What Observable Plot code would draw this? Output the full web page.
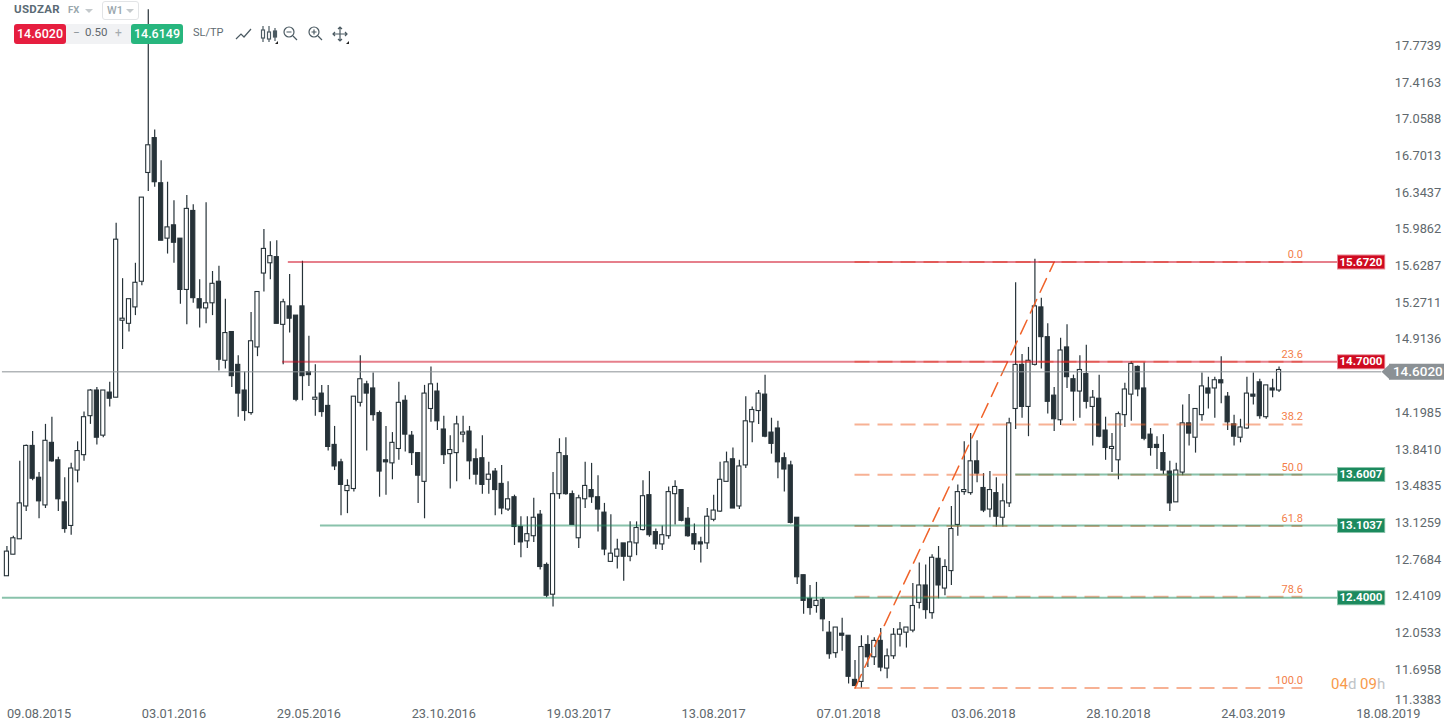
<!DOCTYPE html>
<html>
<head>
<meta charset="utf-8">
<script src="https://cdn.jsdelivr.net/npm/d3@7"></script>
<script src="https://cdn.jsdelivr.net/npm/@observablehq/plot@0.6"></script>
<style>
html,body{margin:0;padding:0;background:#fff;width:1444px;height:726px;overflow:hidden;font-family:Roboto,sans-serif}
#wrap{position:relative;width:1444px;height:726px}
#wrap svg.plot{position:absolute;left:0;top:0}
.hd{position:absolute;white-space:nowrap;line-height:1}
.btn{position:absolute;text-align:center;font-size:12.5px;font-weight:500;color:#fff}
</style>
</head>
<body>
<div id="wrap"></div>
<script>
const opens = [
12.61,12.82,12.97,13.29,13.88,13.57,13.30,13.91,13.74,13.33,
13.10,13.64,13.79,14.17,14.42,13.98,14.40,14.35,15.10,15.07,
15.23,15.48,16.54,16.88,16.44,15.90,16.03,15.90,15.40,16.17,
15.31,15.22,15.27,15.48,14.71,14.99,14.67,14.42,14.20,14.84,
15.56,15.66,15.72,15.06,15.24,15.15,15.24,14.60,14.33,14.39,
14.27,13.89,13.72,13.44,13.46,14.30,14.48,14.44,14.20,13.74,
13.71,13.85,14.32,13.98,13.81,13.53,14.24,14.41,14.04,13.80,
13.81,13.99,14.02,13.75,13.76,13.55,13.63,13.51,13.26,13.38,
13.09,12.95,13.00,13.21,12.72,12.43,13.41,13.78,13.41,12.98,
13.36,13.45,13.38,13.23,12.75,12.80,12.93,12.80,12.93,13.06,
13.40,13.04,12.92,13.00,13.41,13.45,13.17,13.02,12.94,12.93,
13.16,13.24,13.53,13.75,13.29,13.69,14.11,14.22,14.38,14.01,
14.05,13.76,13.69,13.18,12.62,12.39,12.32,12.38,12.06,11.86,
12.05,12.03,11.60,11.58,11.94,11.82,11.98,11.71,11.83,12.04,
12.06,12.08,12.35,12.52,12.25,12.78,12.49,12.66,13.11,13.43,
13.42,13.73,13.47,13.26,13.42,13.18,13.32,14.24,14.67,14.26,
14.67,15.23,14.94,14.37,14.13,14.84,14.53,14.41,14.58,14.26,
14.34,14.03,13.85,13.74,14.18,14.38,14.65,14.44,13.99,13.89,
13.81,13.63,13.33,13.62,14.10,13.96,14.18,14.44,14.44,14.52,
14.36,14.09,13.96,14.05,14.38,14.50,14.16,14.44,14.42];
const closes = [
12.85,12.98,13.32,13.88,13.56,13.34,13.93,13.73,13.36,13.07,
13.66,13.83,14.16,14.42,13.96,14.42,14.34,15.89,15.12,15.31,
15.47,16.30,16.81,16.45,15.88,16.01,15.86,15.40,16.19,15.32,
15.22,15.27,15.46,14.72,14.98,14.56,14.39,14.22,14.90,15.38,
15.80,15.73,15.07,15.28,15.12,14.33,14.56,14.57,14.35,14.21,
13.87,13.68,13.50,13.49,14.36,14.53,14.39,14.18,13.63,13.72,
13.91,14.30,13.99,13.81,13.59,14.39,14.48,14.12,13.79,13.84,
14.09,14.01,13.73,13.60,13.50,13.60,13.45,13.27,13.36,13.09,
12.94,13.02,13.18,12.70,12.42,13.41,13.81,13.41,13.11,13.37,
13.49,13.38,13.26,12.87,12.83,12.87,12.80,12.94,13.08,13.39,
13.01,12.92,13.01,13.43,13.48,13.15,13.00,12.92,12.92,13.19,
13.25,13.55,13.72,13.27,13.68,14.12,14.23,14.39,13.97,13.90,
13.72,13.65,13.13,12.60,12.37,12.30,12.37,12.19,11.85,12.11,
12.03,11.63,11.54,11.92,11.82,11.98,11.72,11.83,12.04,12.09,
12.11,12.32,12.52,12.28,12.79,12.52,12.70,13.07,13.43,13.45,
13.73,13.61,13.25,13.45,13.19,13.34,14.10,14.67,14.26,14.71,
15.24,14.94,14.31,14.14,14.81,14.55,14.41,14.62,14.31,14.35,
13.97,13.86,13.87,14.19,14.43,14.68,14.43,13.95,13.86,13.86,
13.64,13.32,13.64,14.10,14.00,14.24,14.46,14.39,14.52,14.49,
14.11,13.97,14.06,14.39,14.36,14.17,14.47,14.42,14.62];
const highs = [
12.90,13.00,13.73,13.89,14.02,13.62,14.09,14.16,13.77,13.57,
13.71,13.92,14.21,14.43,14.45,14.42,14.50,16.05,15.51,15.31,
15.66,16.30,18.13,16.96,16.66,16.45,16.27,15.90,16.32,16.23,
15.50,16.25,15.58,15.63,15.31,14.99,14.76,14.60,15.18,15.38,
15.99,15.87,15.88,15.31,15.55,15.15,15.68,14.95,14.67,14.47,
14.47,14.07,13.75,13.55,14.36,14.76,14.51,14.59,14.22,14.07,
14.01,14.50,14.37,14.02,13.81,14.47,14.65,14.49,14.17,13.98,
14.17,14.17,14.07,13.85,13.98,13.72,13.66,13.69,13.53,13.40,
13.19,13.19,13.37,13.25,12.74,13.62,13.95,13.96,13.44,13.40,
13.72,13.71,13.59,13.32,13.21,12.97,12.93,13.14,13.14,13.54,
13.63,13.07,13.10,13.48,13.54,13.45,13.28,13.12,12.99,13.27,
13.40,13.72,13.82,13.86,13.74,14.36,14.26,14.42,14.57,14.15,
14.12,13.81,13.73,13.18,12.62,12.52,12.55,12.40,12.17,12.11,
12.20,12.03,11.79,12.03,12.03,12.01,12.10,11.90,12.10,12.16,
12.11,12.54,12.74,12.72,12.82,12.90,12.77,13.29,13.50,13.92,
14.00,13.93,13.61,13.63,13.57,13.51,14.15,15.47,14.77,14.84,
15.70,15.32,15.07,14.45,14.93,15.06,14.57,14.76,14.86,14.42,
14.57,14.16,14.00,14.21,14.49,14.70,14.66,14.69,14.05,13.97,
13.99,13.73,13.71,14.28,14.38,14.24,14.59,14.55,14.55,14.75,
14.40,14.18,14.14,14.55,14.59,14.53,14.47,14.53,14.65];
const lows = [
12.61,12.82,12.97,13.24,13.54,13.17,13.27,13.72,13.24,13.03,
13.01,13.52,13.73,14.09,13.89,13.96,14.26,14.35,14.82,14.99,
15.15,15.44,16.36,16.40,15.88,15.75,15.66,15.26,15.06,15.27,
15.03,15.07,15.15,14.61,14.63,14.45,14.16,14.12,14.18,14.75,
15.38,15.50,15.07,14.67,14.98,14.31,14.32,14.46,14.17,14.16,
13.83,13.64,13.20,13.22,13.43,14.26,13.83,14.12,13.38,13.40,
13.55,13.74,13.82,13.69,13.32,13.17,14.11,14.03,13.70,13.46,
13.53,13.91,13.55,13.50,13.41,13.41,13.20,13.21,13.24,12.91,
12.79,12.88,12.94,12.67,12.40,12.31,13.36,13.40,13.11,12.88,
13.27,13.32,13.04,12.81,12.75,12.68,12.56,12.75,12.81,13.05,
12.99,12.87,12.86,12.97,13.11,13.14,12.99,12.86,12.74,12.87,
13.14,13.23,13.53,13.27,13.26,13.66,13.91,14.09,13.96,13.80,
13.56,13.43,13.12,12.53,12.24,12.23,12.25,12.07,11.80,11.81,
11.88,11.56,11.54,11.52,11.72,11.74,11.68,11.61,11.80,11.92,
11.91,12.06,12.29,12.19,12.19,12.39,12.42,12.52,13.00,13.40,
13.40,13.52,13.23,13.18,13.09,13.09,13.28,14.04,14.15,13.97,
14.66,14.63,14.19,14.02,14.08,14.44,14.12,14.15,14.24,13.88,
13.96,13.74,13.62,13.55,14.06,14.12,14.36,13.93,13.78,13.65,
13.60,13.24,13.33,13.59,13.88,13.81,14.12,14.24,14.15,14.29,
14.03,13.88,13.91,14.04,14.28,14.14,14.14,14.35,14.40];

const priceTicks = [17.7739,17.4163,17.0588,16.7013,16.3437,15.9862,15.6287,15.2711,14.9136,14.1985,13.841,13.4835,13.1259,12.7684,12.4109,12.0533,11.6958];
const bottomTick = [11.3383];
const dateTicks = ["2015-08-09","2016-01-03","2016-05-29","2016-10-23","2017-03-19","2017-08-13","2018-01-07","2018-06-03","2018-10-28","2019-03-24","2019-08-18"];

const levelPrices = [15.672,14.7,13.6007,13.1037,12.4];
const levelFromWeek = [43.8,42.9,157,48.8,-0.7];
const levelKinds = ["res","res","sup","sup","sup"];
const lastPrice = [14.602];
const fibLabels = ["0.0","23.6","38.2","50.0","61.8","78.6","100.0"];
const fibPrices = [15.672,14.7,14.09,13.6,13.1,12.41,11.52];
const fibStart = "2018-01-14", fibEnd = "2018-08-19", fibStop = "2019-05-17";

const firstWeek = Date.UTC(2015,6,5), weekMs = 7*864e5;
const wk = n => new Date(firstWeek + n*weekMs);
const candles = opens.map((o,i)=>({date:wk(i),open:o,close:closes[i],high:highs[i],low:lows[i],up:closes[i]>o}));
const levels = levelPrices.map((p,i)=>({price:p,from:wk(levelFromWeek[i]),kind:levelKinds[i]}));
const fibs = fibPrices.map((p,i)=>({price:p,label:fibLabels[i]}));
const dark="#263238", red="#cf0a20", green="#1c8a5e", grey="#8b9195", orange="#f0632a";
const fmt = d3.utcFormat("%d.%m.%Y");
const halfBody = 2.25*864e5;
const chevron = {draw(c){c.moveTo(0.5,-8);c.lineTo(-8,0);c.lineTo(0.5,8);c.closePath();}};

const chart = Plot.plot({
  width:1444,height:726,marginLeft:0,marginRight:49.8,marginTop:0,marginBottom:22,
  style:{fontFamily:"Roboto, sans-serif",background:"transparent"},
  x:{type:"utc",domain:[new Date("2015-06-28"),new Date("2019-08-25")]},
  y:{domain:[11.36,18.221]},
  marks:[
    Plot.axisY({anchor:"right",ticks:priceTicks,tickFormat:d=>d.toFixed(4),tickSize:0,tickPadding:0,label:null,fontSize:12.8,fill:"#60686d",dy:-0.5}),
    Plot.axisX({anchor:"bottom",ticks:dateTicks.map(d=>new Date(d)),tickFormat:fmt,tickSize:0,tickPadding:4,label:null,fontSize:12.8,fill:"#60686d"}),
    Plot.text(bottomTick,{x:()=>new Date("2019-08-25"),y:d=>d,text:d=>d.toFixed(4),textAnchor:"start",dy:-7,fontSize:12.8,fill:"#60686d"}),
    Plot.ruleX(candles,{x:"date",y1:"low",y2:"high",stroke:dark,strokeWidth:1.2}),
    Plot.rect(candles,{x1:d=>new Date(+d.date-halfBody),x2:d=>new Date(+d.date+halfBody),y1:"open",y2:"close",fill:d=>d.up?"#fff":dark,stroke:dark,strokeWidth:1.1}),
    Plot.ruleY(fibs,{y:"price",x1:()=>new Date(fibStart),x2:()=>new Date(fibStop),stroke:orange,strokeOpacity:.5,strokeWidth:2,strokeDasharray:"15 8"}),
    Plot.line([{d:new Date(fibStart),p:11.52},{d:new Date(fibEnd),p:15.672}],{x:"d",y:"p",stroke:orange,strokeWidth:1.5,strokeDasharray:"15 8"}),
    Plot.ruleY(levels,{y:"price",x1:"from",x2:()=>wk(207.2),stroke:d=>d.kind==="res"?red:green,strokeOpacity:.52,strokeWidth:2}),
    Plot.ruleY(lastPrice,{y:d=>d,x1:()=>wk(-0.7),x2:()=>wk(214),stroke:grey,strokeWidth:1}),
    Plot.text(fibs,{y:"price",x:()=>new Date(fibStop),text:"label",textAnchor:"end",dy:-7.5,fontSize:11,fill:"#f3804a"}),
    Plot.ruleY(levels,{y:"price",x1:()=>wk(207.1),x2:()=>wk(214.6),stroke:d=>d.kind==="res"?"#e88a96":"#8cc4ab",strokeWidth:15}),
    Plot.ruleY(levels,{y:"price",x1:()=>wk(207.25),x2:()=>wk(214.45),stroke:d=>d.kind==="res"?red:green,strokeWidth:13}),
    Plot.text(levels,{y:"price",x:()=>wk(210.75),text:d=>d.price.toFixed(4),fill:"#fff",fontWeight:700,fontSize:11.5}),
    Plot.ruleY(lastPrice,{y:d=>d,x1:()=>wk(215.2),x2:()=>wk(224),stroke:grey,strokeWidth:16}),
    Plot.dot(lastPrice,{y:d=>d,x:()=>wk(215.2),symbol:chevron,r:8,fill:grey}),
    Plot.text(lastPrice,{y:d=>d,x:()=>wk(219.6),text:d=>d.toFixed(4),fill:"#fff",fontWeight:500,fontSize:13.5})
  ]
});
const wrap=document.getElementById("wrap");
wrap.appendChild(chart);
const header=document.createElement("div");
header.innerHTML=`
<div class="hd" style="left:14px;top:4px;font-size:11.5px;font-weight:700;color:#5b6b75;letter-spacing:.3px">USDZAR</div>
<div class="hd" style="left:68px;top:5px;font-size:9.5px;font-weight:700;color:#9aa7ad">FX</div>
<div class="hd" style="left:85px;top:9px;width:0;height:0;border-left:4px solid transparent;border-right:4px solid transparent;border-top:4px solid #c4c9cc"></div>
<div class="hd" style="left:102px;top:1px;width:35px;height:17px;border:1px solid #e2e4e6;border-radius:3px;background:#fff"></div>
<div class="hd" style="left:107px;top:5px;font-size:11px;font-weight:500;color:#9aa7ad">W1</div>
<div class="hd" style="left:126px;top:9px;width:0;height:0;border-left:4px solid transparent;border-right:4px solid transparent;border-top:4px solid #c4c9cc"></div>
<div class="hd" style="left:14px;top:24px;width:169px;height:20px;background:#f1f2f4;border-radius:3px"></div>
<div class="btn" style="left:14px;top:24px;width:52px;height:20px;line-height:20px;background:#e61e3f;border-radius:3px">14.6020</div>
<div class="btn" style="left:131px;top:24px;width:52px;height:20px;line-height:20px;background:#27b67e;border-radius:3px">14.6149</div>
<div class="hd" style="left:73px;top:27px;font-size:12px;color:#8e979c">−</div>
<div class="hd" style="left:85px;top:27px;font-size:11.5px;color:#60686d">0.50</div>
<div class="hd" style="left:115px;top:27px;font-size:12px;color:#a5acb0">+</div>
<div class="hd" style="left:193px;top:27px;font-size:11px;color:#5f6b72">SL/TP</div>
<svg class="hd" style="left:234px;top:24px" width="118" height="20" fill="none" stroke="#4b5a62" stroke-width="1.2">
<path d="M2 15 L7 10 L10 13 L17 5"/>
<path d="M29 2V18M35 2V18M41 4V17"/><rect x="27.5" y="6" width="3" height="8" fill="#fff"/><rect x="33.5" y="8" width="3" height="7" fill="#fff"/><rect x="39.5" y="7" width="3" height="6" fill="#4b5a62"/>
<path d="M41 20l3-3v3z" fill="#222" stroke="none"/>
<circle cx="55" cy="8" r="5"/><path d="M59 12L63 16M52.5 8h5"/>
<circle cx="80" cy="8" r="5"/><path d="M84 12L88 16M77.5 8h5M80 5.5v5"/>
<path d="M106 3V17M99 10H113M104 5l2-2 2 2M104 15l2 2 2-2M101 8l-2 2 2 2M111 8l2 2-2 2"/>
<path d="M112 20l3-3v3z" fill="#222" stroke="none"/>
</svg>
<div class="hd" style="left:1331px;top:677px;font-size:15px;color:#bfc4c7"><span style="color:#f79a4b">04</span>d <span style="color:#f79a4b">09</span>h</div>`;
wrap.appendChild(header);
</script>
</body>
</html>
